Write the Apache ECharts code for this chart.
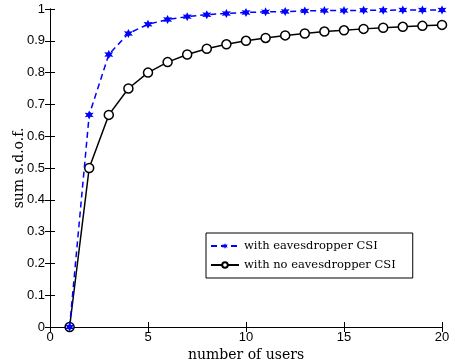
<!DOCTYPE html>
<html><head><meta charset="utf-8">
<script src="https://cdn.jsdelivr.net/npm/echarts@6/dist/echarts.min.js"></script>
<style>html,body{margin:0;padding:0;background:#fff}#c{width:454px;height:362px}</style>
</head><body><div id="c"></div>
<script>
const users = [1,2,3,4,5,6,7,8,9,10,11,12,13,14,15,16,17,18,19,20];
const withCSI = [0,0.667,0.857,0.923,0.952,0.967,0.976,0.982,0.986,0.989,0.991,0.992,0.994,0.995,0.995,0.996,0.996,0.997,0.997,0.997];
const noCSI = [0,0.5,0.667,0.75,0.8,0.833,0.857,0.875,0.889,0.9,0.909,0.917,0.923,0.929,0.933,0.9375,0.941,0.944,0.947,0.95];
const xTicks = [0,5,10,15,20];
const seriesNames = ['with eavesdropper CSI','with no eavesdropper CSI'];

const star = 'path://M0,-10L2.5,-4.3L8.7,-5L5,0L8.7,5L2.5,4.3L0,10L-2.5,4.3L-8.7,5L-5,0L-8.7,-5L-2.5,-4.3Z';
const tickFont = {fontFamily:'Liberation Sans', fontSize:13, color:'#000'};
const serif = 'DejaVu Serif';
const chart = echarts.init(document.getElementById('c'));
chart.setOption({
  animation:false,
  grid:{left:50,right:12,top:9,bottom:35,containLabel:false,outerBoundsMode:'none'},
  xAxis:[{
    type:'value',min:0,max:20,interval:5,
    name:'number of users',nameLocation:'middle',nameGap:21,nameMoveOverlap:false,
    nameTextStyle:{fontFamily:serif,fontSize:14,color:'#000'},
    axisLine:{lineStyle:{color:'#000',width:1}},
    axisTick:{inside:true,length:5,lineStyle:{color:'#000'}},
    axisLabel:Object.assign({margin:4},tickFont),
    splitLine:{show:false}
  },{
    type:'value',min:0,max:20,interval:5,position:'top',
    axisLine:{lineStyle:{color:'#000',width:1}},
    axisTick:{inside:true,length:5,lineStyle:{color:'#000'}},
    axisLabel:{show:false},splitLine:{show:false}
  }],
  yAxis:[{
    type:'value',min:0,max:1,interval:0.1,
    name:'sum s.d.o.f.',nameLocation:'middle',nameGap:24,nameMoveOverlap:false,
    nameTextStyle:{fontFamily:serif,fontSize:14,color:'#000'},
    axisLine:{show:true,lineStyle:{color:'#000',width:1}},
    axisTick:{show:true,inside:true,length:5,lineStyle:{color:'#000'}},
    axisLabel:Object.assign({margin:5,formatter:v=>String(+v.toFixed(1))},tickFont),
    splitLine:{show:false}
  },{
    type:'value',min:0,max:1,interval:0.1,position:'right',
    axisLine:{show:true,lineStyle:{color:'#000',width:1}},
    axisTick:{show:true,inside:true,length:5,lineStyle:{color:'#000'}},
    axisLabel:{show:false},splitLine:{show:false}
  }],
  legend:{
    left:206,top:233,orient:'vertical',
    borderColor:'#000',borderWidth:1,padding:[7,17,7,4],itemGap:7,
    itemWidth:28,itemHeight:7,
    textStyle:{fontFamily:serif,fontSize:11.5,color:'#000'},
    data:seriesNames
  },
  series:[{
    name:seriesNames[0],type:'line',
    data:users.map((u,i)=>[u,withCSI[i]]),
    symbol:star,symbolSize:9,
    lineStyle:{color:'#0000ff',width:1.5,type:[6,4]},
    itemStyle:{color:'#0000ff',borderWidth:0},
    z:3
  },{
    name:seriesNames[1],type:'line',
    data:users.map((u,i)=>[u,noCSI[i]]),
    symbol:'circle',symbolSize:9,
    lineStyle:{color:'#000',width:1.5},
    itemStyle:{color:'#fff',borderColor:'#000',borderWidth:1.5},
    z:2
  }]
});
</script></body></html>
